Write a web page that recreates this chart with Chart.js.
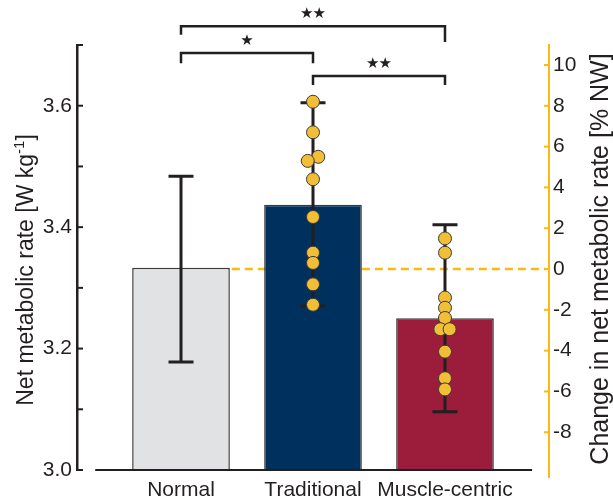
<!DOCTYPE html>
<html lang="en">
<head>
<meta charset="utf-8">
<title>Net metabolic rate</title>
<script src="https://cdn.jsdelivr.net/npm/chart.js@4.4.1/dist/chart.umd.min.js"></script>
<style>
  html, body { margin: 0; padding: 0; background: #fff; }
  #wrap { width: 613px; height: 500px; position: relative; }
</style>
</head>
<body>
<div id="wrap"><canvas id="chart"></canvas></div>
<script>

// group means and error bars, left axis (W/kg)
var groups = ['Normal', 'Traditional', 'Muscle-centric'];
var means = [3.333, 3.437, 3.250];
var errLow = [3.178, 3.270, 3.096];
var errHigh = [3.484, 3.605, 3.404];
var barColors = ['#e1e2e4', '#00305e', '#9b1c3b'];

// subjects, % change vs normal walking, right axis
var tradPct = [8.2, 6.7, 5.5, 5.3, 4.4, 2.55, 0.8, 0.3, -0.75, -1.75];
var tradJitter = [0, 0, 0.04, -0.04, 0, 0, 0, 0, 0, 0];
var muscPct = [1.5, 0.8, -1.4, -1.9, -2.4, -2.95, -2.95, -4.05, -5.35, -5.9];
var muscJitter = [0, 0, 0, 0, 0, -0.035, 0.035, 0, 0, 0];

// axis ticks
var leftTicks = [3.0, 3.1, 3.2, 3.3, 3.4, 3.5, 3.6, 3.7];
var rightTicks = [-8, -6, -4, -2, 0, 2, 4, 6, 8, 10];

// significance brackets (heights in left axis units)
var brFrom = [0, 0, 1];
var brTo = [2, 1, 2];
var brTop = [3.731, 3.687, 3.649];
var brLeftEnd = [3.717, 3.670, 3.634];
var brRightEnd = [3.705, 3.670, 3.634];
var brLabel = [2, 1, 2];

var INK = '#231f20';
var ORANGE = '#fdb913';
var FONT = "'Liberation Sans', Arial, sans-serif";

Chart.defaults.font.family = FONT;
Chart.defaults.color = INK;

var dots = [];
for (var i = 0; i < tradPct.length; i++) dots.push({x: 1 + tradJitter[i], y: tradPct[i]});
for (var j = 0; j < muscPct.length; j++) dots.push({x: 2 + muscJitter[j], y: muscPct[j]});

var bars = groups.map(function (g, i) { return {x: i, y: means[i]}; });

var extras = {
  id: 'extras',
  beforeDatasetsDraw: function (chart) {
    // dashed zero line from the right edge of Normal bar
    var ctx = chart.ctx;
    var bar = chart.getDatasetMeta(1).data[0];
    var y = chart.scales.yR.getPixelForValue(0);
    ctx.save();
    ctx.strokeStyle = ORANGE;
    ctx.lineWidth = 2.5;
    ctx.setLineDash([8, 5]);
    ctx.beginPath();
    ctx.moveTo(bar.x + bar.width / 2 + 2, y);
    ctx.lineTo(chart.chartArea.right - 3, y);
    ctx.stroke();
    ctx.restore();
  },
  afterDatasetDraw: function (chart, args) {
    if (args.index !== 1) return;
    var ctx = chart.ctx, xs = chart.scales.x, ys = chart.scales.yL;
    ctx.save();
    ctx.strokeStyle = INK;
    ctx.lineWidth = 3;
    for (var i = 0; i < groups.length; i++) {
      var x = xs.getPixelForValue(i);
      var y1 = ys.getPixelForValue(errHigh[i]), y2 = ys.getPixelForValue(errLow[i]);
      ctx.beginPath();
      ctx.moveTo(x, y1); ctx.lineTo(x, y2);
      ctx.moveTo(x - 12.5, y1); ctx.lineTo(x + 12.5, y1);
      ctx.moveTo(x - 12.5, y2); ctx.lineTo(x + 12.5, y2);
      ctx.stroke();
    }
    ctx.restore();
  },
  afterDraw: function (chart) {
    var ctx = chart.ctx, area = chart.chartArea;
    var xs = chart.scales.x, yl = chart.scales.yL, yr = chart.scales.yR;
    ctx.save();

    // inward tick marks
    ctx.lineWidth = 2;
    ctx.strokeStyle = INK;
    leftTicks.forEach(function (v) {
      var y = yl.getPixelForValue(v);
      ctx.beginPath(); ctx.moveTo(area.left, y); ctx.lineTo(area.left + 6, y); ctx.stroke();
    });
    ctx.strokeStyle = ORANGE;
    rightTicks.forEach(function (v) {
      var y = yr.getPixelForValue(v);
      ctx.beginPath(); ctx.moveTo(area.right - 5, y); ctx.lineTo(area.right, y); ctx.stroke();
    });
    ctx.beginPath(); ctx.moveTo(area.right, area.bottom); ctx.lineTo(area.right, area.bottom + 8); ctx.stroke();

    // baseline under the bars
    ctx.strokeStyle = INK;
    ctx.lineWidth = 2;
    ctx.beginPath();
    ctx.moveTo(xs.getPixelForValue(-0.65), area.bottom);
    ctx.lineTo(xs.getPixelForValue(2.66), area.bottom);
    ctx.stroke();

    // significance brackets
    ctx.lineWidth = 2.5;
    ctx.fillStyle = INK;
    ctx.font = '15px DejaVu Sans';
    ctx.textAlign = 'center';
    ctx.textBaseline = 'middle';
    for (var b = 0; b < brFrom.length; b++) {
      var xa = xs.getPixelForValue(brFrom[b]), xb = xs.getPixelForValue(brTo[b]);
      var yt = yl.getPixelForValue(brTop[b]);
      ctx.beginPath();
      ctx.moveTo(xa, yl.getPixelForValue(brLeftEnd[b]));
      ctx.lineTo(xa, yt);
      ctx.lineTo(xb, yt);
      ctx.lineTo(xb, yl.getPixelForValue(brRightEnd[b]));
      ctx.stroke();
      var mid = (xa + xb) / 2;
      for (var k = 0; k < brLabel[b]; k++) {
        ctx.fillText('\u2605', mid + (k - (brLabel[b] - 1) / 2) * 12.5, yt - 12);
      }
    }

    // axis titles
    ctx.fillStyle = INK;
    ctx.textAlign = 'left';
    ctx.textBaseline = 'alphabetic';
    ctx.translate(25, 270);
    ctx.rotate(-Math.PI / 2);
    ctx.font = '23px ' + FONT;
    var a = 'Net metabolic rate [W kg', c = ']';
    var wa = ctx.measureText(a).width, wc = ctx.measureText(c).width;
    ctx.font = '15px ' + FONT;
    var ws = ctx.measureText('-1').width;
    var x0 = -(wa + ws + wc) / 2;
    ctx.font = '23px ' + FONT;
    ctx.fillText(a, x0, 8);
    ctx.fillText(c, x0 + wa + ws, 8);
    ctx.font = '15px ' + FONT;
    ctx.fillText('-1', x0 + wa, -1);
    ctx.setTransform(1, 0, 0, 1, 0, 0);

    ctx.translate(600, 259);
    ctx.rotate(-Math.PI / 2);
    ctx.font = '25px ' + FONT;
    ctx.textAlign = 'center';
    ctx.fillText('Change in net metabolic rate [% NW]', 0, 8);
    ctx.restore();
  }
};

new Chart(document.getElementById('chart'), {
  type: 'bar',
  data: {
    datasets: [{
      type: 'scatter',
      data: dots,
      xAxisID: 'x',
      yAxisID: 'yR',
      pointRadius: 6.5,
      pointBackgroundColor: '#f2be36',
      pointBorderColor: '#3a3a3a',
      pointBorderWidth: 1,
      order: 0
    }, {
      type: 'bar',
      data: bars,
      xAxisID: 'x',
      yAxisID: 'yL',
      base: 3.0,
      backgroundColor: barColors,
      borderColor: '#3a3a3a',
      borderWidth: 1.5,
      categoryPercentage: 1,
      barPercentage: 0.74,
      order: 1
    }]
  },
  options: {
    responsive: true,
    maintainAspectRatio: false,
    animation: false,
    layout: {padding: {top: 45, left: 0, right: 0, bottom: 0}},
    plugins: {legend: {display: false}, tooltip: {enabled: false}},
    scales: {
      x: {
        type: 'linear',
        offset: false,
        min: -0.788,
        max: 2.788,
        grid: {display: false, drawTicks: false, offset: false},
        border: {display: false},
        afterBuildTicks: function (s) { s.ticks = groups.map(function (g, i) { return {value: i}; }); },
        ticks: {
          autoSkip: false,
          maxRotation: 0,
          padding: 8,
          font: {size: 21},
          color: INK,
          callback: function (v) { return groups[v]; }
        },
        afterFit: function (s) { s.height = 30; }
      },
      yL: {
        type: 'linear',
        position: 'left',
        min: 3.0,
        max: 3.7,
        grid: {display: false, drawTicks: false},
        border: {display: true, color: INK, width: 2.5},
        afterBuildTicks: function (s) { s.ticks = leftTicks.map(function (v) { return {value: v}; }); },
        ticks: {
          autoSkip: false,
          padding: 5,
          font: {size: 21},
          color: INK,
          callback: function (v) { return Math.round(v * 10) % 2 === 0 ? v.toFixed(1) : ''; }
        },
        afterFit: function (s) { s.width = 77; }
      },
      yR: {
        type: 'linear',
        position: 'right',
        min: -9.85,
        max: 10.98,
        grid: {display: false, drawTicks: false},
        border: {display: true, color: ORANGE, width: 2},
        afterBuildTicks: function (s) { s.ticks = rightTicks.map(function (v) { return {value: v}; }); },
        ticks: {
          autoSkip: false,
          padding: 4,
          font: {size: 21},
          color: INK
        },
        afterFit: function (s) { s.width = 64; }
      }
    }
  },
  plugins: [extras]
});
</script>
</body>
</html>
